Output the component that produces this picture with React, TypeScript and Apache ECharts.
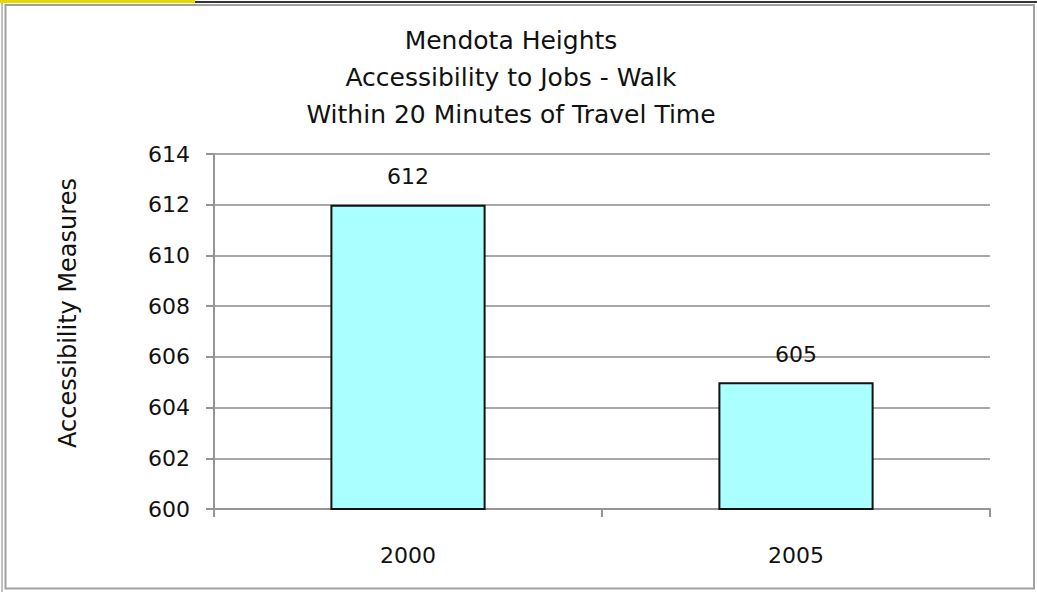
import React, { useEffect, useRef } from "react";
import * as echarts from "echarts";

const categories = ["2000", "2005"];
const values = [612, 605];
const titleLines = ["Mendota Heights", "Accessibility to Jobs - Walk", "Within 20 Minutes of Travel Time"];
const yAxisTitle = "Accessibility Measures";

export default function App() {
  const ref = useRef<HTMLDivElement>(null);
  useEffect(() => {
    const chart = echarts.init(ref.current!, undefined, { renderer: "svg" });
    const labelFont = "'DejaVu Sans', Verdana, sans-serif";
    const titleFont = "'DejaVu Sans', Verdana, sans-serif";
    chart.setOption({
      animation: false,
      backgroundColor: "#ffffff",
      title: {
        text: titleLines.join("\n"),
        left: 506,
        top: 17,
        textAlign: "center",
        textStyle: {
          fontFamily: titleFont,
          fontSize: 25,
          fontWeight: "normal",
          color: "#111",
          lineHeight: 37,
        },
      },
      grid: { left: 214, right: 47, top: 154, bottom: 83 },
      xAxis: {
        type: "category",
        data: categories,
        axisLine: { lineStyle: { color: "#959595", width: 2 } },
        axisTick: { show: true, length: 8, lineStyle: { color: "#959595", width: 2 } },
        axisLabel: { fontFamily: labelFont, fontSize: 22, color: "#111", margin: 35 },
      },
      yAxis: {
        type: "value",
        min: 600,
        max: 614,
        interval: 2,
        axisLine: { show: true, lineStyle: { color: "#959595", width: 2 } },
        axisTick: { show: true, length: 8, lineStyle: { color: "#959595", width: 2 } },
        splitLine: { show: true, lineStyle: { color: "#a8a8a8", width: 2 } },
        axisLabel: { fontFamily: labelFont, fontSize: 22, color: "#111", margin: 24 },
      },
      series: [
        {
          type: "bar",
          data: values,
          barWidth: "40%",
          itemStyle: { color: "#aaffff", borderColor: "#111", borderWidth: 2 },
          label: {
            show: true,
            position: "top",
            distance: 17,
            fontFamily: labelFont,
            fontSize: 22,
            color: "#111",
          },
        },
      ],
      graphic: [
        { type: "rect", shape: { x: 0, y: 0, width: 195, height: 3 }, style: { fill: "#e6d800" }, z: 10 },
        { type: "line", shape: { x1: 195, y1: 2, x2: 1037, y2: 2 }, style: { stroke: "#333", lineWidth: 2 }, z: 10 },
        { type: "line", shape: { x1: 2, y1: 3, x2: 2, y2: 592 }, style: { stroke: "#aaa", lineWidth: 1.5 }, z: 10 },
        { type: "rect", shape: { x: 5.5, y: 5, width: 1028.5, height: 583.5 }, style: { fill: "none", stroke: "#a0a0a0", lineWidth: 2 }, z: 10 },
        {
          type: "text",
          x: 68,
          y: 313,
          rotation: Math.PI / 2,
          style: {
            text: yAxisTitle,
            font: `24px ${titleFont}`,
            fill: "#111",
            align: "center",
            verticalAlign: "middle",
          },
          z: 10,
        },
      ],
    });
    return () => chart.dispose();
  }, []);
  return <div ref={ref} style={{ position: "absolute", left: 0, top: 0, width: 1037, height: 592 }} />;
}
